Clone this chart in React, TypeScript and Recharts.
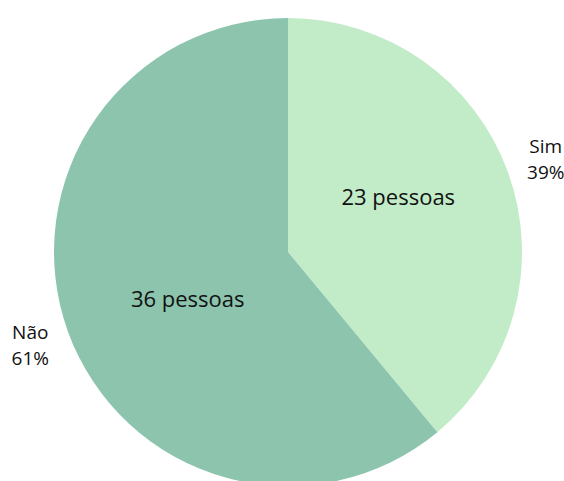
import React from "react";
import { PieChart, Pie, Cell } from "recharts";

const categories = ["Sim", "Não"];
const counts = [23, 36];
const percents = ["39%", "61%"];
const colors = ["#c2ecc8", "#8cc4ad"];

const data = categories.map((name, i) => ({ name, value: counts[i], pct: percents[i] }));

const RAD = Math.PI / 180;
const FONT = "'Open Sans', sans-serif";

function renderLabel(props: any) {
  const { cx, cy, midAngle, outerRadius, index } = props;
  const d = data[index];
  // inner "N pessoas" label
  const ia = (midAngle + 6) * RAD;
  const ir = outerRadius * 0.5;
  const ix = cx + ir * Math.cos(ia) + 5;
  const iy = cy - ir * Math.sin(ia) - 5;
  // outer name + percent
  const oa = midAngle * RAD;
  const or = outerRadius + 40;
  const ox = cx + or * Math.cos(oa);
  const oy = cy - or * Math.sin(oa);
  return (
    <g key={`lbl-${index}`}>
      <text x={ix} y={iy} textAnchor="middle" dominantBaseline="central" fill="#111" fontSize={22} fontFamily={FONT}>
        {`${d.value} pessoas`}
      </text>
      <text x={ox} y={oy - 13} textAnchor="middle" dominantBaseline="central" fill="#111" fontSize={19} fontFamily={FONT}>
        {d.name}
      </text>
      <text x={ox} y={oy + 13} textAnchor="middle" dominantBaseline="central" fill="#111" fontSize={19} fontFamily={FONT}>
        {d.pct}
      </text>
    </g>
  );
}

export default function App() {
  return (
    <div style={{ position: "absolute", top: 0, left: 0, width: 564, height: 481, background: "#fff", overflow: "hidden" }}>
      <PieChart width={564} height={481} margin={{ top: 0, right: 0, bottom: 0, left: 0 }}>
        <Pie
          data={data}
          dataKey="value"
          nameKey="name"
          cx={288}
          cy={252}
          outerRadius={234}
          startAngle={90}
          endAngle={-270}
          stroke="none"
          labelLine={false}
          label={renderLabel}
          isAnimationActive={false}
        >
          {data.map((d, i) => (
            <Cell key={d.name} fill={colors[i]} />
          ))}
        </Pie>
      </PieChart>
    </div>
  );
}
